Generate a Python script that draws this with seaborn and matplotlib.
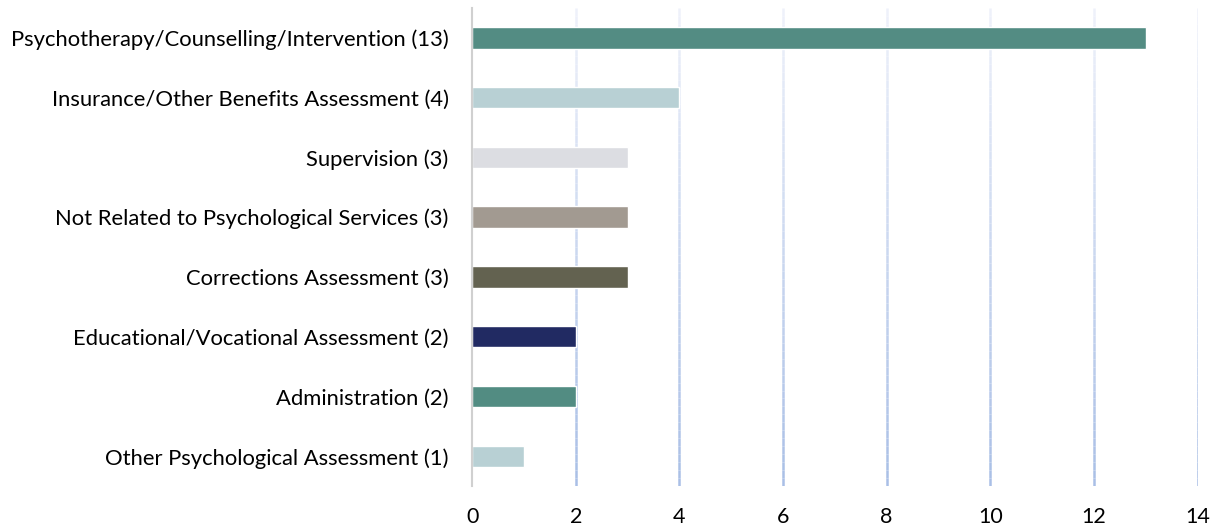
import matplotlib
matplotlib.use("Agg")
import matplotlib.pyplot as plt
import matplotlib.transforms as mtransforms
from matplotlib.collections import LineCollection
from matplotlib.colors import to_rgb
import numpy as np
import pandas as pd
import seaborn as sns

categories = [
    "Psychotherapy/Counselling/Intervention (13)",
    "Insurance/Other Benefits Assessment (4)",
    "Supervision (3)",
    "Not Related to Psychological Services (3)",
    "Corrections Assessment (3)",
    "Educational/Vocational Assessment (2)",
    "Administration (2)",
    "Other Psychological Assessment (1)",
]
values = [13, 4, 3, 3, 3, 2, 2, 1]
colors = ["#538c83", "#b8d0d4", "#dcdde2", "#a29a91", "#636250", "#212a62", "#528c82", "#b8d0d4"]
xticks = [0, 2, 4, 6, 8, 10, 12, 14]

sns.set_theme(style="white")
plt.rcParams["font.family"] = ["Lato", "DejaVu Sans"]

df = pd.DataFrame({"category": categories, "value": values})

fig = plt.figure(figsize=(12.17, 5.29), dpi=100)
ax = fig.add_axes([0.388, 0.081, 0.596, 0.904])

sns.barplot(data=df, x="value", y="category", hue="category", palette=colors,
            legend=False, width=0.36, saturation=1, ax=ax, orient="h", zorder=3)

ax.set_xlim(0, 14)
ax.set_ylim(7.5, -0.5)
ax.set_xticks(xticks)
ax.set_xticklabels([str(t) for t in xticks])
ax.set_xlabel("")
ax.set_ylabel("")

# gradient gridlines (light at top, blue at bottom)
top_c = np.array(to_rgb("#eef1fa"))
bot_c = np.array(to_rgb("#a9bfe6"))
n = 60
ys = np.linspace(1, 0, n + 1)
trans = mtransforms.blended_transform_factory(ax.transData, ax.transAxes)
for t in xticks[1:]:
    segs = [[(t, ys[i]), (t, ys[i + 1])] for i in range(n)]
    cols = [top_c + (bot_c - top_c) * (i / (n - 1)) for i in range(n)]
    lc = LineCollection(segs, colors=cols, linewidths=1.8, transform=trans, zorder=1)
    ax.add_collection(lc)

for s in ["top", "right", "bottom"]:
    ax.spines[s].set_visible(False)
ax.spines["left"].set_color("#d0d0d0")
ax.spines["left"].set_linewidth(1.5)
ax.spines["left"].set_zorder(4)

ax.tick_params(axis="y", length=0, pad=17, labelsize=15.8, labelcolor="#000000")
ax.tick_params(axis="x", length=0, pad=15, labelsize=15.5, labelcolor="#000000")

fig.savefig("out.png", dpi=100)
